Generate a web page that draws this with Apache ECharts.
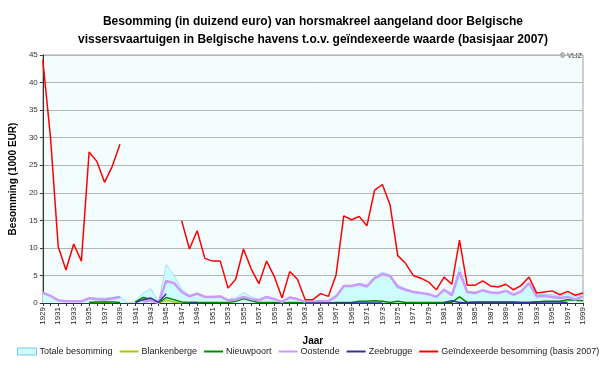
<!DOCTYPE html>
<html><head><meta charset="utf-8">
<script src="https://cdn.jsdelivr.net/npm/echarts@6/dist/echarts.min.js"></script>
<style>html,body{margin:0;padding:0;background:#fff}#c{width:600px;height:368px}</style>
</head><body><div id="c"></div>
<script>
const years = [];
for (let y = 1929; y <= 1999; y++) years.push(String(y));

const totaal = [1.9,1.3,0.5,0.3,0.3,0.3,1.0,0.9,0.9,1.0,1.2,0,0.3,1.8,2.6,0.1,7.0,5.0,2.5,1.4,1.8,1.2,1.2,1.3,0.6,0.9,1.9,1.1,0.6,1.2,0.8,0.2,1.1,0.8,0.2,0.2,0.4,0.3,1.3,3.2,3.2,3.6,3.3,4.8,5.6,5.1,3.3,2.6,2.1,1.9,1.7,1.2,2.5,1.8,6.6,2.1,2.0,2.4,2.0,1.9,2.3,1.6,2.2,3.7,1.5,1.6,1.5,1.2,1.7,1.1,1.6];
const blankenberge = [null,null,null,null,null,null,0.1,0.1,0.2,0.1,null,null,null,0.3,0.4,0,0.5,0.2,0,null,null,null,null,null,null,null,null,null,null,null,null,null,null,null,null,null,null,null,null,null,null,null,null,null,null,null,null,null,null,null,null,null,null,null,null,null,null,null,null,null,null,null,null,null,null,null,null,null,null,null,null];
const nieuwpoort = [null,null,null,null,null,null,0.1,0.2,0.2,0.2,0.1,null,0.2,1.0,0.7,0,1.0,0.6,0.2,0.1,0.1,0.1,0.1,0.1,0.1,0.3,0.8,0.4,0.1,0.1,0.1,0,0.1,0.1,0,0,0,0,0.1,0.1,0.1,0.3,0.3,0.4,0.3,0.1,0.3,0.1,0.1,0.1,0.1,0.1,0.1,0.1,1.1,0.1,0.1,0.1,0.1,0.1,0.1,0.1,0.1,0.1,0.2,0.3,0.3,0.3,0.6,0.5,0.4];
const oostende = [1.9,1.3,0.5,0.3,0.3,0.3,0.85,0.7,0.6,0.8,1.1,null,null,0.2,0.5,0.0,4.0,3.6,2.0,1.2,1.7,1.1,1.1,1.2,0.5,0.6,1.1,0.7,0.5,1.1,0.7,0.2,1.0,0.7,0.2,0.2,0.35,0.3,1.2,3.1,3.1,3.4,3.0,4.5,5.2,4.9,2.9,2.4,2.0,1.8,1.6,1.1,2.4,1.4,5.6,2.0,1.8,2.3,1.9,1.8,2.2,1.5,2.1,3.6,1.2,1.3,1.1,0.9,1.1,0.6,1.2];
const zeebrugge = [null,null,null,null,null,null,null,null,null,null,null,null,0.1,0.6,0.9,0.1,1.7,null,null,0.1,0.1,null,null,null,null,null,null,null,null,null,null,null,null,null,0,0,0,0,0,0,0,0,0,0,0,null,null,null,null,null,null,null,0.1,0.4,0.1,0.1,0.2,0.2,0.2,0.2,0.2,0.2,0.1,0.1,0.2,0.2,0.2,0.2,0.1,null,null];
const geindexeerd = [44.1,30.0,10.2,6.0,10.7,7.6,27.4,25.7,21.9,24.8,28.8,null,null,null,null,null,null,null,14.9,9.8,13.1,8.1,7.6,7.6,2.7,4.3,9.8,6.2,3.5,7.6,4.8,0.9,5.7,4.3,0.6,0.6,1.7,1.2,5.1,15.8,15.1,15.7,14.0,20.5,21.5,17.8,8.6,7.2,5.0,4.5,3.8,2.4,4.7,3.4,11.4,3.2,3.2,4.0,3.1,2.9,3.4,2.4,3.2,4.7,1.8,2.0,2.2,1.5,2.1,1.4,1.8];
const yTicks = [0,5,10,15,20,25,30,35,40,45];

const chart = echarts.init(document.getElementById('c'), null, {renderer:'canvas'});
const ff = 'Liberation Sans, Arial, sans-serif';
function line(name, data, color, width, z){
  return {name, type:'line', data, symbol:'none', connectNulls:false, z,
    lineStyle:{color, width}, itemStyle:{color}};
}
const lineItem = n => ({name:n, itemStyle:{opacity:0}});
chart.setOption({
  animation:false,
  backgroundColor:'#ffffff',
  title:{text:'Besomming (in duizend euro) van horsmakreel aangeland door Belgische\nvissersvaartuigen in Belgische havens t.o.v. geïndexeerde waarde (basisjaar 2007)',
    left:308, textAlign:'center', top:8, textStyle:{fontFamily:ff, fontSize:12, fontWeight:'bold', color:'#000', lineHeight:18}},
  graphic:[{type:'text', right:18, top:53, style:{text:'© VLIZ', fontFamily:ff, fontSize:7, fill:'#333'}}],
  grid:{left:40, right:17, top:55, bottom:65, show:true, backgroundColor:'#f4fdfd', borderColor:'#888', borderWidth:0.8},
  legend:{bottom:7, left:12, width:588, itemGap:6, itemWidth:19, itemHeight:7,
    textStyle:{fontFamily:ff, fontSize:9, color:'#222', padding:[0,0,0,-2]},
    data:[{name:'Totale besomming', icon:'rect', itemStyle:{color:'#ccfcfc', borderColor:'#7fc4ea', borderWidth:1}},
      lineItem('Blankenberge'),lineItem('Nieuwpoort'),lineItem('Oostende'),lineItem('Zeebrugge'),lineItem('Geïndexeerde besomming (basis 2007)')]},
  xAxis:{type:'category', data:years, boundaryGap:false, name:'Jaar', nameLocation:'middle', nameGap:33,
    nameTextStyle:{fontFamily:ff, fontSize:10, fontWeight:'bold', color:'#000'},
    axisLine:{lineStyle:{color:'#333'}}, axisTick:{interval:0, length:3, lineStyle:{color:'#333'}},
    axisLabel:{interval:1, rotate:90, fontFamily:ff, fontSize:8, color:'#222', margin:4}},
  yAxis:{type:'value', min:0, max:45, interval:5, name:'Besomming (1000 EUR)', nameLocation:'middle', nameGap:24,
    nameTextStyle:{fontFamily:ff, fontSize:10, fontWeight:'bold', color:'#000'},
    axisLine:{show:true, lineStyle:{color:'#333'}}, axisTick:{show:true, length:3, lineStyle:{color:'#333'}},
    axisLabel:{fontFamily:ff, fontSize:8, color:'#333', margin:5, formatter:v=>yTicks.includes(v)?String(v):''},
    splitLine:{lineStyle:{color:'#b4b4b4', width:1}}},
  series:[
    {name:'Totale besomming', type:'line', data:totaal, symbol:'none', z:1,
      lineStyle:{color:'#a8dcf4', width:1}, itemStyle:{color:'#ccfcfc'},
      areaStyle:{color:'#ccfcfc', opacity:1}},
    line('Blankenberge', blankenberge, '#a6cc00', 1.5, 2),
    line('Nieuwpoort', nieuwpoort, '#008a00', 1.5, 3),
    line('Oostende', oostende, '#cc99ff', 2.5, 4),
    line('Zeebrugge', zeebrugge, '#333399', 1.5, 5),
    line('Geïndexeerde besomming (basis 2007)', geindexeerd, '#ff0000', 1.5, 6)
  ]
});
</script></body></html>
